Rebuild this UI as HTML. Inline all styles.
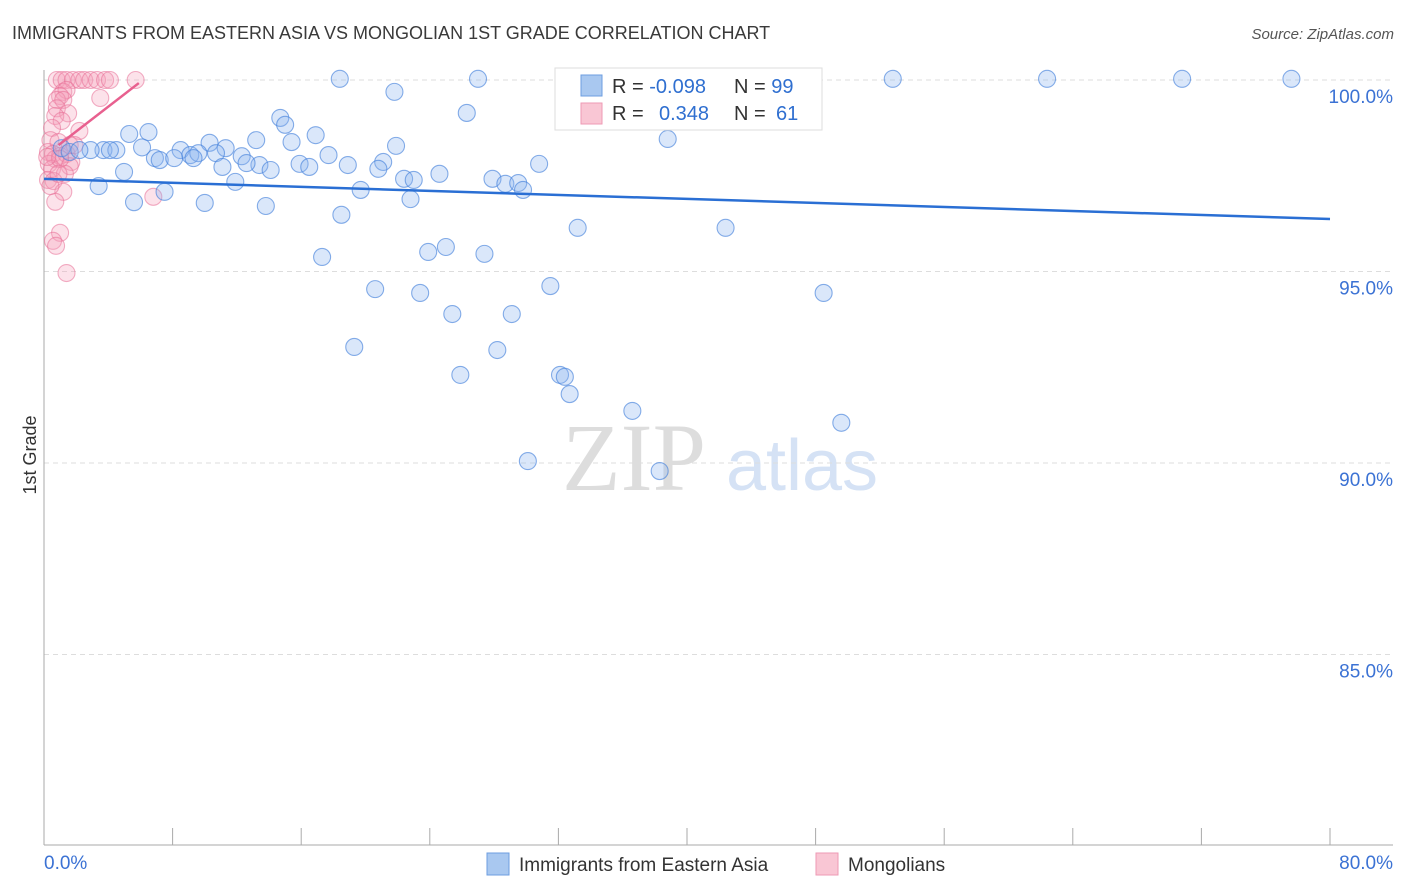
<!DOCTYPE html>
<html><head><meta charset="utf-8">
<style>
body{margin:0;background:#fff;font-family:"Liberation Sans",sans-serif;}
svg{display:block}
</style></head>
<body>
<svg id="chart" width="1406" height="892" xmlns="http://www.w3.org/2000/svg">
<text x="12" y="39" font-size="18" fill="#3a3a3a">IMMIGRANTS FROM EASTERN ASIA VS MONGOLIAN 1ST GRADE CORRELATION CHART</text>
<text x="1394" y="39" font-size="15" fill="#555" font-style="italic" text-anchor="end">Source: ZipAtlas.com</text>
<text x="36" y="455" font-size="18" fill="#333" transform="rotate(-90 36 455)" text-anchor="middle">1st Grade</text>
<g>
<text x="634" y="490" font-size="96" fill="#ddd" font-family="Liberation Serif,serif" text-anchor="middle">ZIP</text>
<text x="802" y="490" font-size="72" fill="#d5e2f5" text-anchor="middle">atlas</text>
</g>
<g id="grid"></g><g id="axes"></g><g id="pink"></g><g id="blue"></g><g id="lines"></g>
<g>
<rect x="555" y="68" width="267" height="62" fill="#fff" stroke="#ddd"/>
<rect x="581" y="75" width="21" height="21" fill="#a9c8f0" stroke="#6d9ee0"/>
<rect x="581" y="103" width="21" height="21" fill="#f9c6d4" stroke="#ee9ab4"/>
<text x="612" y="93" font-size="20" fill="#333">R = <tspan fill="#2f6fd0">-0.098</tspan></text>
<text x="734" y="93" font-size="20" fill="#333">N = <tspan fill="#2f6fd0">99</tspan></text>
<text x="612" y="120" font-size="20" fill="#333">R = <tspan fill="#2f6fd0" x="659">0.348</tspan></text>
<text x="734" y="120" font-size="20" fill="#333">N = <tspan fill="#2f6fd0" x="776">61</tspan></text>
</g>
<g>
<rect x="487" y="853" width="22" height="22" fill="#a9c8f0" stroke="#6d9ee0"/>
<text x="519" y="871" font-size="19" fill="#333">Immigrants from Eastern Asia</text>
<rect x="816" y="853" width="22" height="22" fill="#f9c6d4" stroke="#ee9ab4"/>
<text x="848" y="871" font-size="19" fill="#333">Mongolians</text>
</g>
</svg>
<script>
const yTicks=[100,95,90,85];
const yTickLabels=["100.0%","95.0%","90.0%","85.0%"];
const xTickLabels=["0.0%","80.0%"];
const blueX=[18.4,27,34.2,37.2,52.8,62.4,70.8,77.6,43.1,21.8,26.3,14.7,15,5.3,6.5,16.9,13.2,21.9,10.3,15.4,38.8,6.1,8.5,11.3,3.7,4.5,2.9,1.1,1.6,2.2,4.1,9.1,9.6,10.7,6.9,7.2,8.1,9.3,12.3,17.7,21.1,15.9,16.5,18.9,20.8,13.4,12.6,11.1,14.1,30.8,24.6,22.4,23,27.9,28.7,29.5,29.8,11.9,3.4,4.98,7.5,19.7,22.8,5.6,10.0,13.8,18.5,33.2,42.4,25,23.9,27.4,17.3,20.6,23.4,31.5,48.5,25.4,29.1,19.3,28.2,25.9,32.1,32.4,32.7,36.6,49.6,30.1,38.3];
const blueY=[100.03,100.03,100,100,100.03,100.03,100.03,100.03,100,99.69,99.14,99.01,98.83,98.59,98.64,98.56,98.43,98.28,98.36,98.38,98.46,98.24,98.17,98.22,98.17,98.17,98.17,98.22,98.12,98.17,98.17,98.04,98.09,98.09,97.96,97.91,97.96,97.96,98.01,98.04,97.86,97.81,97.73,97.78,97.68,97.78,97.83,97.73,97.65,97.81,97.55,97.42,97.39,97.42,97.29,97.31,97.13,97.34,97.23,97.6,97.08,97.13,96.89,96.81,96.79,96.71,96.48,96.14,96.14,95.64,95.51,95.46,95.38,94.54,94.44,94.62,94.44,93.89,93.89,93.03,92.95,92.3,92.3,92.25,91.8,91.36,91.05,90.05,89.79];
const pinkX=[0.8,1.1,1.4,1.8,2.2,2.5,2.9,3.3,3.8,4.1,5.7,1.2,1.4,1,0.8,1.2,3.5,0.8,1.5,0.7,1.1,0.5,2.2,0.4,0.9,1.6,0.25,0.56,0.7,1,1.4,1.7,0.3,0.5,1.6,1.3,0.25,0.6,1.2,0.7,6.8,1,0.56,0.75,1.4,0.4,1,1.9,0.2,0.9];
const pinkY=[100,100,100,100,100,100,100,100,100,100,100,99.69,99.74,99.58,99.48,99.48,99.53,99.26,99.13,99.06,98.93,98.75,98.67,98.43,98.38,98.3,98.12,98.07,97.94,98.02,98.07,97.86,97.81,97.68,97.75,97.55,97.39,97.36,97.08,96.82,96.95,96.01,95.8,95.67,94.96,97.23,97.94,98.3,97.99,97.55];
const blueTrend=[[0,97.42],[80,96.37]];
const pinkTrend=[[0.9,98.3],[5.9,99.92]];
const X0=44,X1=1330,Y100=80,PXPERPCT=38.3;
const xs=v=>X0+(X1-X0)*v/80;
const ys=v=>Y100+(100-v)*PXPERPCT;
const NS="http://www.w3.org/2000/svg";
function mk(tag,parent,attrs){const e=document.createElementNS(NS,tag);for(const k in attrs)e.setAttribute(k,attrs[k]);document.getElementById(parent).appendChild(e);return e;}
yTicks.forEach((t,i)=>{
 const g=mk('line','grid',{x1:X0,x2:1393,y1:ys(t),y2:ys(t),stroke:'#ddd','stroke-dasharray':'5,4'});
 
 
 const l=mk('text','grid',{x:1393,y:ys(t)+23,'font-size':19,fill:'#3b72d4','text-anchor':'end'});
 l.textContent=yTickLabels[i];
 
 
});
const ax=mk('line','axes',{x1:X0,x2:X0,y1:70,y2:845,stroke:'#aaa'});


const bx=mk('line','axes',{x1:X0,x2:1393,y1:845,y2:845,stroke:'#aaa'});


for(let i=0;i<=10;i++){
 const t=mk('line','axes',{x1:xs(i*8),x2:xs(i*8),y1:828,y2:845,stroke:'#aaa'});
 
 
}
const xl0=mk('text','axes',{x:44,y:869,'font-size':19,fill:'#3b72d4'});xl0.textContent=xTickLabels[0];


const xl1=mk('text','axes',{x:1393,y:869,'font-size':19,fill:'#3b72d4','text-anchor':'end'});xl1.textContent=xTickLabels[1];


pinkX.forEach((v,i)=>{
 const c=mk('circle','pink',{cx:xs(v),cy:ys(pinkY[i]),r:8.5,fill:'rgba(246,160,185,0.3)',stroke:'rgba(232,110,150,0.55)','stroke-width':1.1});
 
 
});
blueX.forEach((v,i)=>{
 const c=mk('circle','blue',{cx:xs(v),cy:ys(blueY[i]),r:8.5,fill:'rgba(140,180,238,0.32)',stroke:'rgba(70,130,220,0.65)','stroke-width':1.1});
 
 
});
const bl=mk('line','lines',{x1:xs(blueTrend[0][0]),y1:ys(blueTrend[0][1]),x2:xs(blueTrend[1][0]),y2:ys(blueTrend[1][1]),stroke:'#2a6fd4','stroke-width':2.5});


const pl=mk('line','lines',{x1:xs(pinkTrend[0][0]),y1:ys(pinkTrend[0][1]),x2:xs(pinkTrend[1][0]),y2:ys(pinkTrend[1][1]),stroke:'#e8608f','stroke-width':2.5});


</script>
</body></html>
